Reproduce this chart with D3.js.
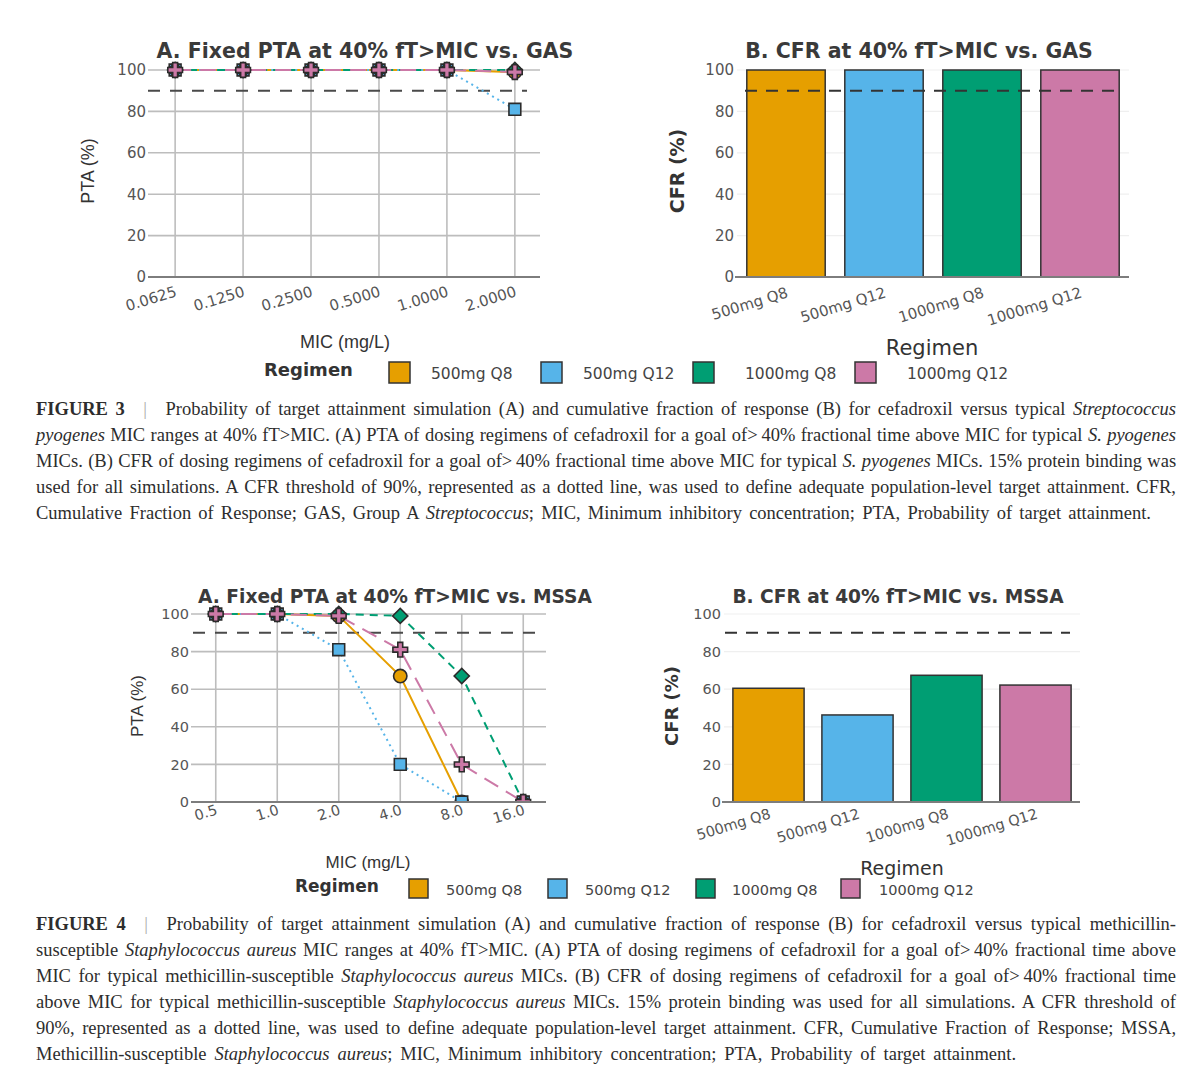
<!DOCTYPE html>
<html>
<head>
<meta charset="utf-8">
<script src="https://cdn.jsdelivr.net/npm/d3@7"></script>
<style>
body { margin: 0; background: #fff; }
svg text { font-family: "DejaVu Sans", sans-serif; }
</style>
</head>
<body>
<svg id="fig" width="1200" height="1084"></svg>
<script>
// ---- data ----
var regimens = ["500mg Q8", "500mg Q12", "1000mg Q8", "1000mg Q12"];
var yTicks = [0, 20, 40, 60, 80, 100];
var threshold = 90;

// Figure 3 (GAS)
var gasMic = ["0.0625", "0.1250", "0.2500", "0.5000", "1.0000", "2.0000"];
var gasPta500q8   = [100, 100, 100, 100, 100, 99];
var gasPta500q12  = [100, 100, 100, 100, 100, 81];
var gasPta1000q8  = [100, 100, 100, 100, 100, 100];
var gasPta1000q12 = [100, 100, 100, 100, 100, 99];
var gasCfr = [100, 100, 100, 100];

// Figure 4 (MSSA)
var mssaMic = ["0.5", "1.0", "2.0", "4.0", "8.0", "16.0"];
var mssaPta500q8   = [100, 100, 99, 67, 0, 0];
var mssaPta500q12  = [100, 100, 81, 20, 0, 0];
var mssaPta1000q8  = [100, 100, 100, 99, 67, 0];
var mssaPta1000q12 = [100, 100, 99, 81, 20, 0];
var mssaCfr = [60.5, 46.3, 67.4, 62.2];

var fig3Caption = [
  "**FIGURE 3**\u2003|\u2003Probability of target attainment simulation (A) and cumulative fraction of response (B) for cefadroxil versus typical _Streptococcus_",
  "_pyogenes_ MIC ranges at 40% fT>MIC. (A) PTA of dosing regimens of cefadroxil for a goal of>\u200940% fractional time above MIC for typical _S. pyogenes_",
  "MICs. (B) CFR of dosing regimens of cefadroxil for a goal of>\u200940% fractional time above MIC for typical _S. pyogenes_ MICs. 15% protein binding was",
  "used for all simulations. A CFR threshold of 90%, represented as a dotted line, was used to define adequate population-level target attainment. CFR,",
  "Cumulative Fraction of Response; GAS, Group A _Streptococcus_; MIC, Minimum inhibitory concentration; PTA, Probability of target attainment."
];
var fig4Caption = [
  "**FIGURE 4**\u2003|\u2003Probability of target attainment simulation (A) and cumulative fraction of response (B) for cefadroxil versus typical methicillin-",
  "susceptible _Staphylococcus aureus_ MIC ranges at 40% fT>MIC. (A) PTA of dosing regimens of cefadroxil for a goal of>\u200940% fractional time above",
  "MIC for typical methicillin-susceptible _Staphylococcus aureus_ MICs. (B) CFR of dosing regimens of cefadroxil for a goal of>\u200940% fractional time",
  "above MIC for typical methicillin-susceptible _Staphylococcus aureus_ MICs. 15% protein binding was used for all simulations. A CFR threshold of",
  "90%, represented as a dotted line, was used to define adequate population-level target attainment. CFR, Cumulative Fraction of Response; MSSA,",
  "Methicillin-susceptible _Staphylococcus aureus_; MIC, Minimum inhibitory concentration; PTA, Probability of target attainment."
];

// ---- styles ----
var colors = ["#E69F00", "#56B4E9", "#009E73", "#CC79A7"];
var dashes = [null, "2,4", "8,6", "16,9"];
var markers = [
  { type: d3.symbolCircle, size: 140, rot: 0 },
  { type: d3.symbolSquare, size: 140, rot: 0 },
  { type: d3.symbolSquare, size: 115, rot: 45 },
  { type: d3.symbolCross, size: 120, rot: 0 }
];

var svg = d3.select("#fig");
var clipId = 0;

var linePanel = function (o) {
  var g = svg.append("g");
  var x = d3.scalePoint().domain(o.mic).range([o.left, o.right]).padding(0.37);
  var y = d3.scaleLinear().domain([0, 100]).range([o.bottom, o.top]);

  // grid
  g.append("g").selectAll("line").data(o.mic).enter().append("line")
    .attr("x1", function (d) { return x(d); }).attr("x2", function (d) { return x(d); })
    .attr("y1", y(0)).attr("y2", y(100))
    .attr("stroke", "#bdbdbd").attr("stroke-width", 1.6);
  g.append("g").selectAll("line").data(yTicks.filter(function (d) { return d > 0; })).enter().append("line")
    .attr("x1", o.left - 2).attr("x2", o.right)
    .attr("y1", function (d) { return y(d); }).attr("y2", function (d) { return y(d); })
    .attr("stroke", "#bdbdbd").attr("stroke-width", 1.6);

  // y tick labels
  var ya = g.append("g").attr("transform", "translate(" + (o.left - 3) + ",0)")
    .call(d3.axisLeft(y).tickValues(yTicks).tickSize(0).tickPadding(1));
  ya.select(".domain").remove();
  ya.attr("font-family", "DejaVu Sans").attr("font-size", o.tickFont);
  ya.selectAll("text").attr("fill", "#555");

  // x tick labels (slanted)
  var xa = g.append("g").attr("transform", "translate(0," + y(0) + ")")
    .call(d3.axisBottom(x).tickSize(0));
  xa.select(".domain").remove();
  xa.attr("font-family", "DejaVu Sans").attr("font-size", o.tickFont);
  xa.selectAll("text").attr("fill", "#555").attr("text-anchor", "end")
    .attr("y", 0).attr("dy", 0)
    .attr("transform", "translate(2," + o.xLabOff + ") rotate(-17)");

  // threshold
  g.append("line").attr("x1", o.dash0).attr("x2", o.dash1)
    .attr("y1", y(threshold)).attr("y2", y(threshold))
    .attr("stroke", "#4a4a4a").attr("stroke-width", 2).attr("stroke-dasharray", "12,10");

  // series, clipped at the bottom of the plot
  var cid = "clip" + (clipId++);
  svg.append("clipPath").attr("id", cid).append("rect")
    .attr("x", o.left - 30).attr("y", o.top - 30)
    .attr("width", o.right - o.left + 60).attr("height", o.bottom - o.top + 30);
  var sg = g.append("g").attr("clip-path", "url(#" + cid + ")");
  var line = d3.line().x(function (d, j) { return x(o.mic[j]); }).y(function (d) { return y(d); });
  o.series.forEach(function (vals, i) {
    sg.append("path").datum(vals).attr("d", line)
      .attr("fill", "none").attr("stroke", colors[i]).attr("stroke-width", 2)
      .attr("stroke-dasharray", dashes[i]);
  });
  o.series.forEach(function (vals, i) {
    var sym = d3.symbol().type(markers[i].type).size(markers[i].size);
    sg.selectAll(".m" + i).data(vals).enter().append("path")
      .attr("d", sym)
      .attr("transform", function (d, j) {
        return "translate(" + x(o.mic[j]) + "," + y(d) + ") rotate(" + markers[i].rot + ")";
      })
      .attr("fill", colors[i]).attr("stroke", "#2b2b2b").attr("stroke-width", 1.6);
  });

  // bottom axis line
  g.append("line").attr("x1", o.left - 2).attr("x2", o.right)
    .attr("y1", y(0)).attr("y2", y(0))
    .attr("stroke", "#7d7d7d").attr("stroke-width", 2);

  // titles
  g.append("text").attr("x", o.titleX).attr("y", o.titleY).attr("text-anchor", "middle")
    .attr("font-weight", "bold").attr("font-size", o.titleFont).attr("fill", "#3a3a3a").text(o.title);
  g.append("text").attr("transform", "translate(" + o.yLabX + "," + o.yLabY + ") rotate(-90)")
    .attr("dy", "0.35em").attr("text-anchor", "middle")
    .style("font-family", "'Liberation Sans', Arial, sans-serif")
    .attr("font-size", o.yLabFont).attr("fill", "#333").text("PTA (%)");
  g.append("text").attr("x", o.xLabX).attr("y", o.xLabY).attr("text-anchor", "middle")
    .style("font-family", "'Liberation Sans', Arial, sans-serif")
    .attr("font-size", o.xLabFont).attr("fill", "#333").text("MIC (mg/L)");
};

var barPanel = function (o) {
  var g = svg.append("g");
  var x = d3.scaleBand().domain(regimens).range([o.left, o.right]).paddingInner(0.2).paddingOuter(0.1);
  var y = d3.scaleLinear().domain([0, 100]).range([o.bottom, o.top]);

  g.append("g").selectAll("line").data(yTicks.filter(function (d) { return d > 0; })).enter().append("line")
    .attr("x1", o.left).attr("x2", o.right)
    .attr("y1", function (d) { return y(d); }).attr("y2", function (d) { return y(d); })
    .attr("stroke", "#efefef").attr("stroke-width", 1.2);

  var ya = g.append("g").attr("transform", "translate(" + (o.left - 2) + ",0)")
    .call(d3.axisLeft(y).tickValues(yTicks).tickSize(0).tickPadding(1));
  ya.select(".domain").remove();
  ya.attr("font-family", "DejaVu Sans").attr("font-size", o.tickFont);
  ya.selectAll("text").attr("fill", "#555");

  g.selectAll(".bar").data(o.values).enter().append("rect")
    .attr("x", function (d, i) { return x(regimens[i]); })
    .attr("width", x.bandwidth())
    .attr("y", function (d) { return y(d); })
    .attr("height", function (d) { return y(0) - y(d); })
    .attr("fill", function (d, i) { return colors[i]; })
    .attr("stroke", "#333").attr("stroke-width", 1.5);

  g.append("line").attr("x1", o.left - 2).attr("x2", o.right)
    .attr("y1", y(0)).attr("y2", y(0))
    .attr("stroke", "#7d7d7d").attr("stroke-width", 2);

  g.append("line").attr("x1", o.dash0).attr("x2", o.dash1)
    .attr("y1", y(threshold)).attr("y2", y(threshold))
    .attr("stroke", "#333").attr("stroke-width", 2).attr("stroke-dasharray", "12,9");

  var xa = g.append("g").attr("transform", "translate(0," + y(0) + ")")
    .call(d3.axisBottom(x).tickSize(0));
  xa.select(".domain").remove();
  xa.attr("font-family", "DejaVu Sans").attr("font-size", o.tickFont);
  xa.selectAll("text").attr("fill", "#555").attr("text-anchor", "end")
    .attr("y", 0).attr("dy", 0)
    .attr("transform", "translate(3," + o.xLabOff + ") rotate(-17)");

  g.append("text").attr("x", o.titleX).attr("y", o.titleY).attr("text-anchor", "middle")
    .attr("font-weight", "bold").attr("font-size", o.titleFont).attr("fill", "#3a3a3a").text(o.title);
  g.append("text").attr("transform", "translate(" + o.yLabX + "," + o.yLabY + ") rotate(-90)")
    .attr("dy", "0.35em").attr("text-anchor", "middle").attr("font-weight", "bold")
    .attr("font-size", o.yLabFont).attr("fill", "#333").text("CFR (%)");
  g.append("text").attr("x", o.xLabX).attr("y", o.xLabY).attr("text-anchor", "middle")
    .attr("font-size", o.xLabFont).attr("fill", "#333").text("Regimen");
};

var legend = function (o) {
  var g = svg.append("g");
  g.append("text").attr("x", o.x).attr("y", o.y).attr("font-weight", "bold")
    .attr("font-size", o.titleFont).attr("fill", "#333").text("Regimen");
  regimens.forEach(function (r, i) {
    g.append("rect").attr("x", o.boxX[i]).attr("y", o.boxY).attr("width", o.box).attr("height", o.box)
      .attr("fill", colors[i]).attr("stroke", "#333").attr("stroke-width", 1.5);
    g.append("text").attr("x", o.labX[i]).attr("y", o.y + 3).attr("font-size", o.font)
      .attr("fill", "#444").text(r);
  });
};

var caption = function (lines, y0, targets) {
  lines.forEach(function (str, k) {
    var t = svg.append("text").attr("x", 36).attr("y", y0 + k * 26)
      .style("font-family", "'Liberation Serif', 'Times New Roman', serif")
      .attr("font-size", 18.5).attr("fill", "#2d2d2d");
    str.split(/(\*\*[^*]+\*\*|_[^_]+_|\|)/).forEach(function (p) {
      if (!p) { return; }
      var s = t.append("tspan");
      if (p.slice(0, 2) == "**") { s.attr("font-weight", "bold").text(p.slice(2, -2)); }
      else if (p[0] == "_" && p.length > 1) { s.attr("font-style", "italic").text(p.slice(1, -1)); }
      else if (p == "|") { s.attr("fill", "#aaa").text(p); }
      else { s.text(p); }
    });
    var nat = t.node().getComputedTextLength();
    var n = (str.match(/ /g) || []).length;
    t.attr("word-spacing", ((targets[k] - nat) / n).toFixed(2));
  });
};

// ---- Figure 3 ----
linePanel({
  mic: gasMic, series: [gasPta500q8, gasPta500q12, gasPta1000q8, gasPta1000q12],
  left: 150, right: 540, top: 70, bottom: 277, tickFont: 15, xLabOff: 19,
  dash0: 148, dash1: 527,
  title: "A. Fixed PTA at 40% fT>MIC vs. GAS", titleX: 365, titleY: 58, titleFont: 20.5,
  yLabX: 88, yLabY: 171, yLabFont: 18, xLabX: 345, xLabY: 348, xLabFont: 18
});
barPanel({
  values: gasCfr, left: 737, right: 1129, top: 70, bottom: 277, tickFont: 15, xLabOff: 20,
  dash0: 745, dash1: 1117,
  title: "B. CFR at 40% fT>MIC vs. GAS", titleX: 919, titleY: 58, titleFont: 20.5,
  yLabX: 677, yLabY: 171, yLabFont: 19, xLabX: 932, xLabY: 355, xLabFont: 21
});
legend({ x: 264, y: 376, titleFont: 18, font: 15.5, box: 21, boxY: 362,
  boxX: [389, 541, 693, 855], labX: [431, 583, 745, 907] });
caption(fig3Caption, 415, [1140, 1140, 1140, 1140, 1115]);

// ---- Figure 4 ----
linePanel({
  mic: mssaMic, series: [mssaPta500q8, mssaPta500q12, mssaPta1000q8, mssaPta1000q12],
  left: 193, right: 546, top: 614, bottom: 802, tickFont: 14.5, xLabOff: 12,
  dash0: 193, dash1: 535,
  title: "A. Fixed PTA at 40% fT>MIC vs. MSSA", titleX: 395, titleY: 603, titleFont: 18.6,
  yLabX: 137, yLabY: 706, yLabFont: 17, xLabX: 368, xLabY: 868, xLabFont: 17
});
barPanel({
  values: mssaCfr, left: 724, right: 1080, top: 614, bottom: 802, tickFont: 14.5, xLabOff: 16,
  dash0: 725, dash1: 1070,
  title: "B. CFR at 40% fT>MIC vs. MSSA", titleX: 898, titleY: 603, titleFont: 18.6,
  yLabX: 672, yLabY: 706, yLabFont: 18, xLabX: 902, xLabY: 875, xLabFont: 19
});
legend({ x: 295, y: 892, titleFont: 17, font: 14.5, box: 19, boxY: 879,
  boxX: [409, 548, 696, 841], labX: [446, 585, 732, 879] });
caption(fig4Caption, 930, [1140, 1140, 1140, 1140, 1140, 980]);
</script>
</body>
</html>
